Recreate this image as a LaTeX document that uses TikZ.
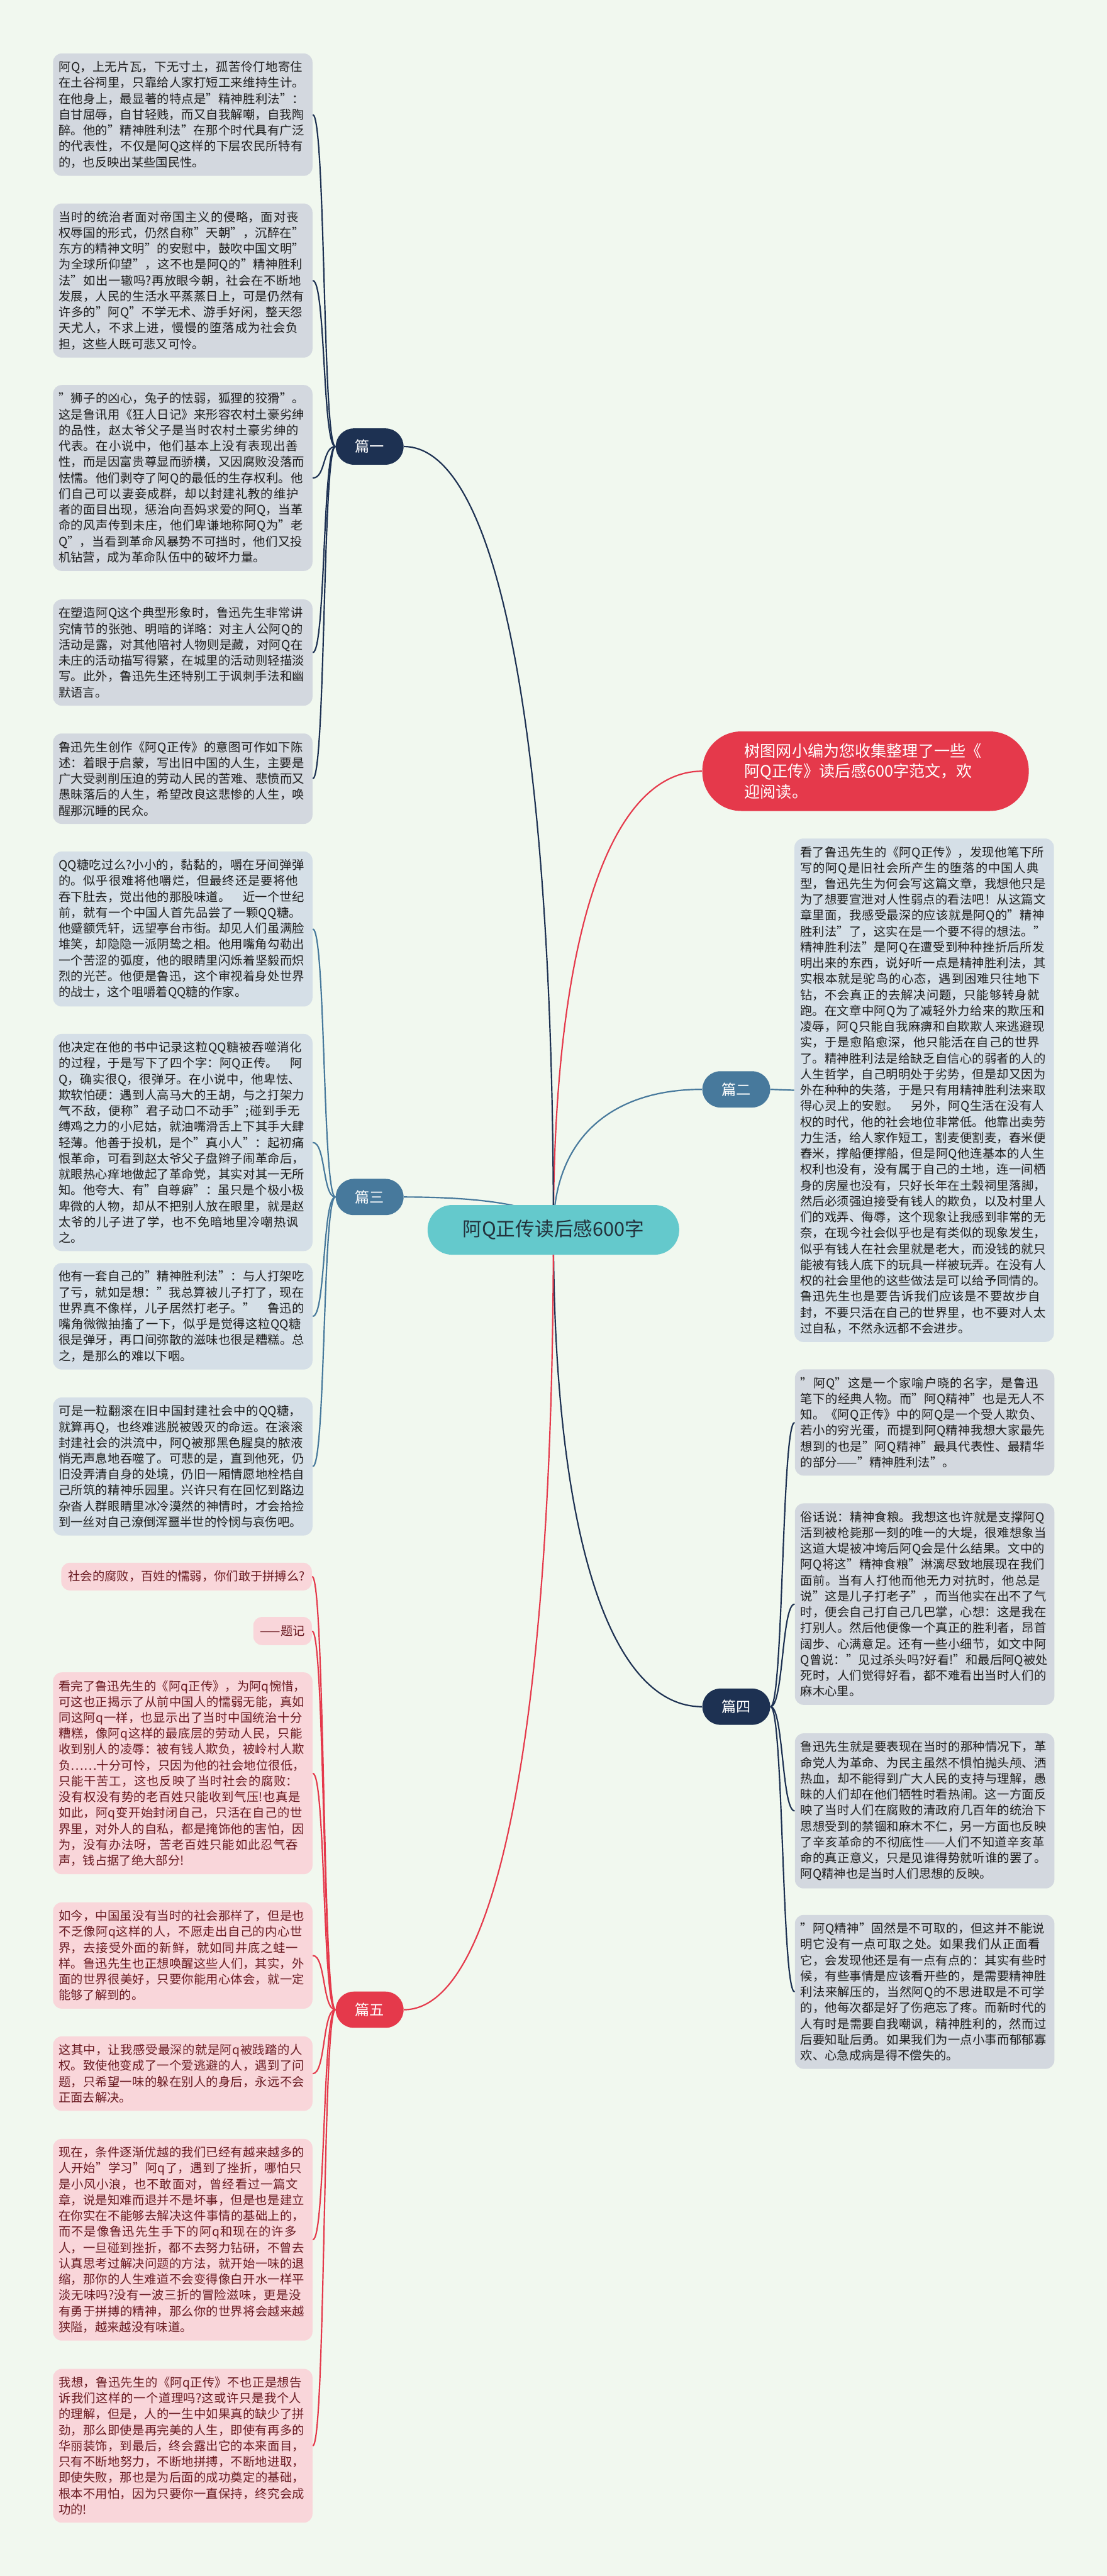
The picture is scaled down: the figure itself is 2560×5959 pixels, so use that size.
\documentclass[tikz,border=0pt]{standalone}
\usepackage{fontspec}
\setmainfont{Noto Sans CJK SC}
\usetikzlibrary{calc,backgrounds}
\XeTeXlinebreaklocale "zh"
\XeTeXlinebreakskip = 0pt plus 1pt

\definecolor{bgmint}{HTML}{F1F8EF}
\definecolor{navy}{HTML}{1D3152}
\definecolor{steel}{HTML}{47799C}
\definecolor{qred}{HTML}{E5394B}
\definecolor{centerteal}{HTML}{64C9CC}
\definecolor{centertext}{HTML}{23323C}
\definecolor{graybox}{HTML}{D3D8DF}
\definecolor{bluebox}{HTML}{D5DFE7}
\definecolor{pinkbox}{HTML}{F9D6DA}
\definecolor{pinktext}{HTML}{6A1B22}
\definecolor{blocktext}{HTML}{1E1E1E}

\newcommand\blockfont{\fontsize{8pt}{10.45pt}\selectfont}

\tikzset{
  block/.style={fill=#1, text=blocktext, rounded corners=2mm, text width=57.4mm,
    inner xsep=1.3mm, inner ysep=1.8mm, align=left, anchor=north west, font=\blockfont},
  pinkblock/.style={block=pinkbox, text=pinktext},
  pian/.style={fill=#1, text=white, rounded corners=4.2mm, minimum width=15.7mm,
    minimum height=8.4mm, font=\fontsize{9.6pt}{11pt}\selectfont},
  link/.style={line width=0.9pt, draw=#1},
  branch/.style={to path={.. controls ($(\tikztostart)!0.63!(\tikztostart|-\tikztotarget)$)
    and ($(\tikztotarget)!0.63!(\tikztotarget-|\tikztostart)$) .. (\tikztotarget)}},
}

\begin{document}
\begin{tikzpicture}[x=0.1mm, y=-0.1mm]
  \useasboundingbox (0,0) rectangle (2560,5959);

  % centre and first level
  \node[fill=centerteal, text=centertext, rounded corners=5.7mm, minimum width=58.2mm,
    minimum height=11.5mm, font=\fontsize{12.7pt}{14pt}\selectfont] (c) at (1280,2845) {阿Q正传读后感600字};

  \node[fill=qred, text=white, rounded corners=9mm, text width=56mm, inner xsep=9.75mm,
    minimum height=18.4mm, align=left, font=\fontsize{10.4pt}{13.5pt}\selectfont] (intro) at (2002,1784)
    {树图网小编为您收集整理了一些《\\阿Q正传》读后感600字范文，欢\\迎阅读。};

  \node[pian=navy] (p1) at (855,1033) {篇一};
  \node[pian=steel] (p2) at (1703,2520) {篇二};
  \node[pian=steel] (p3) at (855,2769) {篇三};
  \node[pian=navy] (p4) at (1703,3948) {篇四};
  \node[pian=qred] (p5) at (855,4649) {篇五};

  % 篇一
  \node[block=graybox] (b1) at (122,123) {阿Q，上无片瓦，下无寸土，孤苦伶仃地寄住在土谷祠里，只靠给人家打短工来维持生计。在他身上，最显著的特点是"精神胜利法"：自甘屈辱，自甘轻贱，而又自我解嘲，自我陶醉。他的"精神胜利法"在那个时代具有广泛的代表性，不仅是阿Q这样的下层农民所特有的，也反映出某些国民性。};
  \node[block=graybox] (b2) at (122,470) {当时的统治者面对帝国主义的侵略，面对丧权辱国的形式，仍然自称"天朝"，沉醉在"东方的精神文明"的安慰中，鼓吹中国文明"为全球所仰望"，这不也是阿Q的"精神胜利法"如出一辙吗?再放眼今朝，社会在不断地发展，人民的生活水平蒸蒸日上，可是仍然有许多的"阿Q"不学无术、游手好闲，整天怨天尤人，不求上进，慢慢的堕落成为社会负担，这些人既可悲又可怜。};
  \node[block=graybox] (b3) at (122,890) {"狮子的凶心，兔子的怯弱，狐狸的狡猾"。这是鲁讯用《狂人日记》来形容农村土豪劣绅的品性，赵太爷父子是当时农村土豪劣绅的代表。在小说中，他们基本上没有表现出善性，而是因富贵尊显而骄横，又因腐败没落而怯懦。他们剥夺了阿Q的最低的生存权利。他们自己可以妻妾成群，却以封建礼教的维护者的面目出现，惩治向吾妈求爱的阿Q，当革命的风声传到未庄，他们卑谦地称阿Q为"老Q"，当看到革命风暴势不可挡时，他们又投机钻营，成为革命队伍中的破坏力量。};
  \node[block=graybox] (b4) at (122,1386) {在塑造阿Q这个典型形象时，鲁迅先生非常讲究情节的张弛、明暗的详略：对主人公阿Q的活动是露，对其他陪衬人物则是藏，对阿Q在未庄的活动描写得繁，在城里的活动则轻描淡写。此外，鲁迅先生还特别工于讽刺手法和幽默语言。};
  \node[block=graybox] (b5) at (122,1696) {鲁迅先生创作《阿Q正传》的意图可作如下陈述：着眼于启蒙，写出旧中国的人生，主要是广大受剥削压迫的劳动人民的苦难、悲愤而又愚昧落后的人生，希望改良这悲惨的人生，唤醒那沉睡的民众。};

  % 篇三
  \node[block=bluebox] (b6) at (122,1969) {QQ糖吃过么?小小的，黏黏的，嚼在牙间弹弹的。似乎很难将他嚼烂，但最终还是要将他吞下肚去，觉出他的那股味道。　近一个世纪前，就有一个中国人首先品尝了一颗QQ糖。他蹙额凭轩，远望亭台市街。却见人们虽满脸堆笑，却隐隐一派阴鸷之相。他用嘴角勾勒出一个苦涩的弧度，他的眼睛里闪烁着坚毅而炽烈的光芒。他便是鲁迅，这个审视着身处世界的战士，这个咀嚼着QQ糖的作家。};
  \node[block=bluebox] (b7) at (122,2391) {他决定在他的书中记录这粒QQ糖被吞噬消化的过程，于是写下了四个字：阿Q正传。　阿Q，确实很Q，很弹牙。在小说中，他卑怯、欺软怕硬：遇到人高马大的王胡，与之打架力气不敌，便称"君子动口不动手";碰到手无缚鸡之力的小尼姑，就油嘴滑舌上下其手大肆轻薄。他善于投机，是个"真小人"：起初痛恨革命，可看到赵太爷父子盘辫子闹革命后，就眼热心痒地做起了革命党，其实对其一无所知。他夸大、有"自尊癖"：虽只是个极小极卑微的人物，却从不把别人放在眼里，就是赵太爷的儿子进了学，也不免暗地里冷嘲热讽之。};
  \node[block=bluebox] (b8) at (122,2921) {他有一套自己的"精神胜利法"：与人打架吃了亏，就如是想："我总算被儿子打了，现在世界真不像样，儿子居然打老子。"　鲁迅的嘴角微微抽搐了一下，似乎是觉得这粒QQ糖很是弹牙，再口间弥散的滋味也很是糟糕。总之，是那么的难以下咽。};
  \node[block=bluebox] (b9) at (122,3232) {可是一粒翻滚在旧中国封建社会中的QQ糖，就算再Q，也终难逃脱被毁灭的命运。在滚滚封建社会的洪流中，阿Q被那黑色腥臭的脓液悄无声息地吞噬了。可悲的是，直到他死，仍旧没弄清自身的处境，仍旧一厢情愿地栓梏自己所筑的精神乐园里。兴许只有在回忆到路边杂沓人群眼睛里冰冷漠然的神情时，才会拾捡到一丝对自己潦倒浑噩半世的怜悯与哀伤吧。};

  % 篇五
  \node[fill=pinkbox, text=pinktext, rounded corners=2mm, minimum height=6.4mm, inner xsep=1.6mm,
    anchor=east, font=\blockfont] (b10) at (722,3647) {社会的腐败，百姓的懦弱，你们敢于拼搏么?};
  \node[fill=pinkbox, text=pinktext, rounded corners=2mm, minimum height=6.5mm, inner xsep=1.6mm,
    anchor=east, font=\blockfont] (b11) at (722,3773) {——题记};
  \node[pinkblock] (b12) at (122,3868) {看完了鲁迅先生的《阿q正传》，为阿q惋惜，可这也正揭示了从前中国人的懦弱无能，真如同这阿q一样，也显示出了当时中国统治十分糟糕，像阿q这样的最底层的劳动人民，只能收到别人的凌辱：被有钱人欺负，被岭村人欺负……十分可怜，只因为他的社会地位很低，只能干苦工，这也反映了当时社会的腐败：没有权没有势的老百姓只能收到气压!也真是如此，阿q变开始封闭自己，只活在自己的世界里，对外人的自私，都是掩饰他的害怕，因为，没有办法呀，苦老百姓只能如此忍气吞声，钱占据了绝大部分!};
  \node[pinkblock] (b13) at (122,4400) {如今，中国虽没有当时的社会那样了，但是也不乏像阿q这样的人，不愿走出自己的内心世界，去接受外面的新鲜，就如同井底之蛙一样。鲁迅先生也正想唤醒这些人们，其实，外面的世界很美好，只要你能用心体会，就一定能够了解到的。};
  \node[pinkblock] (b14) at (122,4710) {这其中，让我感受最深的就是阿q被践踏的人权。致使他变成了一个爱逃避的人，遇到了问题，只希望一味的躲在别人的身后，永远不会正面去解决。};
  \node[pinkblock] (b15) at (122,4947) {现在，条件逐渐优越的我们已经有越来越多的人开始"学习"阿q了，遇到了挫折，哪怕只是小风小浪，也不敢面对，曾经看过一篇文章，说是知难而退并不是坏事，但是也是建立在你实在不能够去解决这件事情的基础上的，而不是像鲁迅先生手下的阿q和现在的许多人，一旦碰到挫折，都不去努力钻研，不曾去认真思考过解决问题的方法，就开始一味的退缩，那你的人生难道不会变得像白开水一样平淡无味吗?没有一波三折的冒险滋味，更是没有勇于拼搏的精神，那么你的世界将会越来越狭隘，越来越没有味道。};
  \node[pinkblock] (b16) at (122,5479) {我想，鲁迅先生的《阿q正传》不也正是想告诉我们这样的一个道理吗?这或许只是我个人的理解，但是，人的一生中如果真的缺少了拼劲，那么即使是再完美的人生，即使有再多的华丽装饰，到最后，终会露出它的本来面目，只有不断地努力，不断地拼搏，不断地进取，即使失败，那也是为后面的成功奠定的基础，根本不用怕，因为只要你一直保持，终究会成功的!};

  % 篇二
  \node[block=bluebox] (r0) at (1837,1939) {看了鲁迅先生的《阿Q正传》，发现他笔下所写的阿Q是旧社会所产生的堕落的中国人典型，鲁迅先生为何会写这篇文章，我想他只是为了想要宣泄对人性弱点的看法吧！从这篇文章里面，我感受最深的应该就是阿Q的"精神胜利法"了，这实在是一个要不得的想法。"精神胜利法"是阿Q在遭受到种种挫折后所发明出来的东西，说好听一点是精神胜利法，其实根本就是驼鸟的心态，遇到困难只往地下钻，不会真正的去解决问题，只能够转身就跑。在文章中阿Q为了减轻外力给来的欺压和凌辱，阿Q只能自我麻痹和自欺欺人来逃避现实，于是愈陷愈深，他只能活在自己的世界了。精神胜利法是给缺乏自信心的弱者的人的人生哲学，自己明明处于劣势，但是却又因为外在种种的失落，于是只有用精神胜利法来取得心灵上的安慰。　另外，阿Q生活在没有人权的时代，他的社会地位非常低。他靠出卖劳力生活，给人家作短工，割麦便割麦，舂米便舂米，撑船便撑船，但是阿Q他连基本的人生权利也没有，没有属于自己的土地，连一间栖身的房屋也没有，只好长年在土榖祠里落脚，然后必须强迫接受有钱人的欺负，以及村里人们的戏弄、侮辱，这个现象让我感到非常的无奈，在现今社会似乎也是有类似的现象发生，似乎有钱人在社会里就是老大，而没钱的就只能被有钱人底下的玩具一样被玩弄。在没有人权的社会里他的这些做法是可以给予同情的。鲁迅先生也是要告诉我们应该是不要故步自封，不要只活在自己的世界里，也不要对人太过自私，不然永远都不会进步。};

  % 篇四
  \node[block=graybox] (r1) at (1838,3167) {"阿Q"这是一个家喻户晓的名字，是鲁迅笔下的经典人物。而"阿Q精神"也是无人不知。《阿Q正传》中的阿Q是一个受人欺负、若小的穷光蛋，而提到阿Q精神我想大家最先想到的也是"阿Q精神"最具代表性、最精华的部分——"精神胜利法"。};
  \node[block=graybox] (r2) at (1838,3477) {俗话说：精神食粮。我想这也许就是支撑阿Q活到被枪毙那一刻的唯一的大堤，很难想象当这道大堤被冲垮后阿Q会是什么结果。文中的阿Q将这"精神食粮"淋漓尽致地展现在我们面前。当有人打他而他无力对抗时，他总是说"这是儿子打老子"，而当他实在出不了气时，便会自己打自己几巴掌，心想：这是我在打别人。然后他便像一个真正的胜利者，昂首阔步、心满意足。还有一些小细节，如文中阿Q曾说："见过杀头吗?好看!"和最后阿Q被处死时，人们觉得好看，都不难看出当时人们的麻木心里。};
  \node[block=graybox] (r3) at (1838,4009) {鲁迅先生就是要表现在当时的那种情况下，革命党人为革命、为民主虽然不惧怕抛头颅、洒热血，却不能得到广大人民的支持与理解，愚昧的人们却在他们牺牲时看热闹。这一方面反映了当时人们在腐败的清政府几百年的统治下思想受到的禁锢和麻木不仁，另一方面也反映了辛亥革命的不彻底性——人们不知道辛亥革命的真正意义，只是见谁得势就听谁的罢了。阿Q精神也是当时人们思想的反映。};
  \node[block=graybox] (r4) at (1838,4429) {"阿Q精神"固然是不可取的，但这并不能说明它没有一点可取之处。如果我们从正面看它，会发现他还是有一点有点的：其实有些时候，有些事情是应该看开些的，是需要精神胜利法来解压的，当然阿Q的不思进取是不可学的，他每次都是好了伤疤忘了疼。而新时代的人有时是需要自我嘲讽，精神胜利的，然而过后要知耻后勇。如果我们为一点小事而郁郁寡欢、心急成病是得不偿失的。};

  % connectors, under the nodes
  \begin{scope}[on background layer]
    \fill[bgmint] (0,0) rectangle (2560,5959);

    \draw[link=qred] (c.center) to[branch] (intro.west);
    \draw[link=steel] (c.center) to[branch] (p2.west);
    \draw[link=navy] (c.center) to[branch] (p4.west);
    \draw[link=navy] (c.center) to[branch] (p1.east);
    \draw[link=steel] (c.center) to[branch] (p3.east);
    \draw[link=qred] (c.center) to[branch] (p5.east);

    \foreach \b in {b1,b2,b3,b4,b5}
      \draw[link=navy] (p1.west) .. controls +(-30,0) and +(30,0) .. (\b.east);
    \foreach \b in {b6,b7,b8,b9}
      \draw[link=steel] (p3.west) .. controls +(-30,0) and +(30,0) .. (\b.east);
    \foreach \b in {b10,b11,b12,b13,b14,b15,b16}
      \draw[link=qred] (p5.west) .. controls +(-30,0) and +(30,0) .. (\b.east);
    \draw[link=steel] (p2.east) -- (r0.west);
    \foreach \r in {r1,r2,r3,r4}
      \draw[link=navy] (p4.east) .. controls +(30,0) and +(-30,0) .. (\r.west);
  \end{scope}
\end{tikzpicture}
\end{document}
